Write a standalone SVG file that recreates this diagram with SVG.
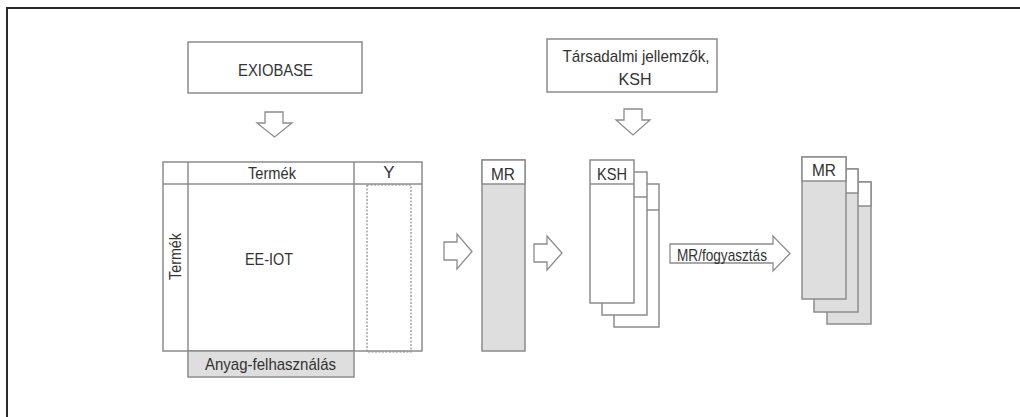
<svg xmlns="http://www.w3.org/2000/svg" width="1020" height="417" viewBox="0 0 1020 417">
<style>
.ln{fill:#fff;stroke:#8c8c8c;stroke-width:1.5}
.gr{fill:#dedede;stroke:#8c8c8c;stroke-width:1.5}
.t{font-family:"Liberation Sans",Arial,sans-serif;font-size:17px;fill:#333;text-anchor:middle}
.arr{fill:#fff;stroke:#8c8c8c;stroke-width:1.3;stroke-linejoin:miter}
</style>
<rect width="1020" height="417" fill="#fff"/>
<g id="frame" stroke="#2a2a2a" stroke-width="2" fill="none">
<path d="M7,417 V8 H1020"/>
</g>
<g id="exiobase">
<rect class="ln" x="188" y="42" width="174" height="51"/>
<text class="t" x="275.5" y="76" textLength="75" lengthAdjust="spacingAndGlyphs">EXIOBASE</text>
</g>
<g id="tarsadalmi">
<rect class="ln" x="547" y="39" width="170" height="53"/>
<text class="t" x="636" y="62" textLength="147" lengthAdjust="spacingAndGlyphs">Társadalmi jellemzők,</text>
<text class="t" x="635" y="85" textLength="33" lengthAdjust="spacingAndGlyphs">KSH</text>
</g>
<g id="eeiot">
<rect class="ln" x="163" y="162" width="259" height="189"/>
<line class="ln" x1="163" y1="184" x2="422" y2="184"/>
<line class="ln" x1="188" y1="162" x2="188" y2="351"/>
<line class="ln" x1="354" y1="162" x2="354" y2="351"/>
<rect x="367" y="185" width="44" height="167" fill="none" stroke="#8c8c8c" stroke-width="1.2" stroke-dasharray="2,1.5"/>
<rect class="gr" x="188" y="351" width="166" height="26"/>
<text class="t" x="272" y="179" textLength="48" lengthAdjust="spacingAndGlyphs">Termék</text>
<text class="t" x="389" y="178">Y</text>
<text class="t" x="269" y="265" textLength="48" lengthAdjust="spacingAndGlyphs">EE-IOT</text>
<text class="t" transform="translate(181,256.5) rotate(-90)" x="0" y="0" textLength="47" lengthAdjust="spacingAndGlyphs">Termék</text>
<text class="t" x="270.5" y="370" textLength="131" lengthAdjust="spacingAndGlyphs">Anyag-felhasználás</text>
</g>
<g id="mr">
<rect class="gr" x="482" y="160" width="43" height="191"/>
<rect class="ln" x="482" y="160" width="43" height="24"/>
<text class="t" x="503" y="180" textLength="24" lengthAdjust="spacingAndGlyphs">MR</text>
</g>
<g id="ksh-stack">
<rect class="ln" x="614" y="184" width="45" height="143"/>
<line class="ln" x1="614" y1="210" x2="659" y2="210"/>
<rect class="ln" x="602" y="172" width="45" height="143"/>
<line class="ln" x1="602" y1="197" x2="647" y2="197"/>
<rect class="ln" x="590" y="160" width="44" height="143"/>
<line class="ln" x1="590" y1="184" x2="634" y2="184"/>
<text class="t" x="612" y="180" textLength="30" lengthAdjust="spacingAndGlyphs">KSH</text>
</g>
<g id="mr-stack">
<rect class="gr" x="827" y="182" width="44" height="142"/>
<rect class="ln" x="827" y="182" width="44" height="24"/>
<rect class="gr" x="814" y="169" width="44" height="143"/>
<rect class="ln" x="814" y="169" width="44" height="24"/>
<rect class="gr" x="802" y="157" width="44" height="142"/>
<rect class="ln" x="802" y="157" width="44" height="24"/>
<text class="t" x="824" y="176" textLength="24" lengthAdjust="spacingAndGlyphs">MR</text>
</g>
<g id="connectors">
<path class="arr" d="M265,112 H283 V123 H292 L274.5,137 L257,123 H265 Z"/>
<path class="arr" d="M624,109 H642 V120 H650 L633,135 L616,120 H624 Z"/>
<path class="arr" d="M444,242 H457 V234 L472,251.5 L457,269 V260 H444 Z"/>
<path class="arr" d="M534,244 H547 V236 L562,253 L547,270 V262 H534 Z"/>
<path class="arr" d="M670,244 H773 V236 L790,253.5 L773,271 V263 H670 Z"/>
<text class="t" x="722" y="260.5" font-size="15" textLength="90" lengthAdjust="spacingAndGlyphs">MR/fogyasztás</text>
</g>
</svg>
